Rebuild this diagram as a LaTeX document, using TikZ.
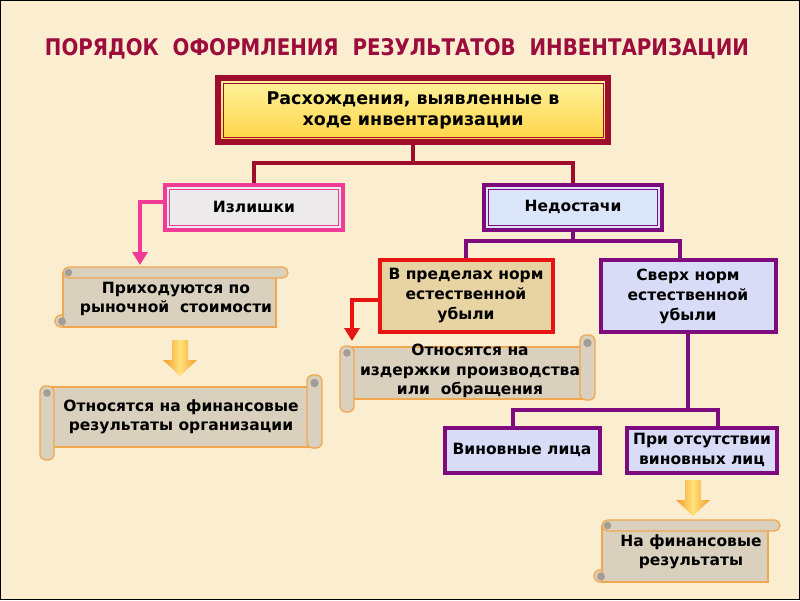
\documentclass[tikz,border=0pt]{standalone}
\usepackage{graphicx}
\usepackage{fontspec}
\setmainfont{DejaVu Sans}
\usetikzlibrary{arrows.meta,calc}
\definecolor{bgc}{HTML}{FBEED0}
\definecolor{titlec}{HTML}{9C0C3C}
\definecolor{darkred}{HTML}{A00C2C}
\definecolor{pinkc}{HTML}{F03C96}
\definecolor{purplec}{HTML}{7E0A7E}
\definecolor{redc}{HTML}{E81414}
\definecolor{scrollfill}{HTML}{DAD0BE}
\definecolor{scrollline}{HTML}{F0A850}
\definecolor{curlc}{HTML}{A39D95}
\definecolor{orangeA}{HTML}{F59A28}
\definecolor{orangeB}{HTML}{FFE27A}
\definecolor{yelTop}{HTML}{FFF3A0}
\definecolor{yelBot}{HTML}{FFD445}
\definecolor{grayfill}{HTML}{ECEAEA}
\definecolor{bluefill}{HTML}{DCE6FA}
\definecolor{lavfill}{HTML}{D8DCF6}
\definecolor{parch}{HTML}{E8D3A2}
\tikzset{
  boxtxt/.style={align=center, font=\bfseries\fontsize{15.5}{20}\selectfont, text=black, inner sep=0pt},
  framebox/.style={boxtxt, draw=#1, line width=4pt},
  innerfr/.style={draw=#1, line width=0.9pt},
  scrtxt/.style={align=center, font=\bfseries\fontsize{15.5}{19.5}\selectfont, text=black, inner sep=0pt},
  conn/.style={line width=3.2pt},
  elbow/.style={line width=3.4pt, -{Triangle[width=15pt,length=13pt]}},
  scrollbody/.style={fill=scrollfill, draw=scrollline, line width=1.3pt},
}
\newcommand\myhscroll[4]{%
  \draw[scrollbody, rounded corners=6pt] (#1,#4-12) rectangle (#1+22,#4);
  \draw[scrollbody] (#1+8,#2+6) rectangle (#3-12,#4);
  \draw[scrollbody, rounded corners=5.5pt] (#1+8,#2) rectangle (#3,#2+11);
  \fill[curlc] (#1+13.5,#2+5.5) circle (3.8);
  \fill[curlc] (#1+7,#4-5.5) circle (4);
}
\newcommand\myvscroll[4]{%
  \draw[scrollbody] (#1+7,#2+12) rectangle (#3-8,#4-13);
  \draw[scrollbody, rounded corners=6pt] (#1,#2+11) rectangle (#1+14,#4);
  \draw[scrollbody, rounded corners=6pt] (#3-15,#2) rectangle (#3,#4-12);
  \fill[curlc] (#1+7,#2+18) circle (3.8);
  \fill[curlc] (#3-7.5,#2+8) circle (4.2);
}
\newcommand\blockarrow[2]{%
  \path[left color=orangeA, right color=orangeA, middle color=orangeB]
    (#1-8,#2) -- (#1+8,#2) -- (#1+8,#2+20) -- (#1+17,#2+20) -- (#1,#2+36)
    -- (#1-17,#2+20) -- (#1-8,#2+20) -- cycle;
}
\begin{document}
\begin{tikzpicture}[x=1pt,y=-1pt]
\useasboundingbox (0,0) rectangle (800,600);
\fill[bgc] (0,0) rectangle (800,600);
\draw[black, line width=1.2pt] (0.6,0.6) rectangle (799.4,599.4);

% title
\node[text=titlec, inner sep=0pt, anchor=base] (title) at (397,55)
  {\resizebox{704pt}{17pt}{\bfseries ПОРЯДОК\ \ ОФОРМЛЕНИЯ\ \ РЕЗУЛЬТАТОВ\ \ ИНВЕНТАРИЗАЦИИ}};

% top box
\node[boxtxt, font=\bfseries\fontsize{17.5}{21}\selectfont, draw=darkred, line width=6pt,
      top color=yelTop, bottom color=yelBot,
      minimum width=390pt, minimum height=64pt] (top) at (413,110)
  {Расхождения, выявленные в\\ходе инвентаризации};
\draw[innerfr=darkred] ([shift={(8,8)}]top.north west) rectangle ([shift={(-8,-8)}]top.south east);

% level 2
\node[framebox=pinkc, fill=grayfill, minimum width=178pt, minimum height=45pt] (izl) at (254,207) {Излишки};
\node[framebox=purplec, fill=bluefill, minimum width=178pt, minimum height=45pt] (ned) at (573,207) {Недостачи};
\draw[innerfr=pinkc] ([shift={(6.5,6.5)}]izl.north west) rectangle ([shift={(-6.5,-6.5)}]izl.south east);
\draw[innerfr=purplec] ([shift={(6.5,6.5)}]ned.north west) rectangle ([shift={(-6.5,-6.5)}]ned.south east);

\coordinate (j1) at (413,163);
\draw[conn, darkred] (top.south) -- (j1);
\draw[conn, darkred] (j1) -| (izl.north);
\draw[conn, darkred] (j1) -| (ned.north);

% level 3
\node[framebox=redc, fill=parch, minimum width=173pt, minimum height=72pt] (vp) at (466,296)
  {В пределах норм\\естественной\\убыли};
\node[framebox=purplec, fill=lavfill, minimum width=175pt, minimum height=72pt] (sv) at (688,296)
  {Сверх норм\\естественной\\убыли};
\coordinate (j2) at (573,241);
\draw[conn, purplec] (ned.south) -- (j2);
\draw[conn, purplec] (j2) -| (vp.north);
\draw[conn, purplec] (j2) -| ([xshift=-8pt]sv.north);

% level 4
\node[framebox=purplec, fill=lavfill, minimum width=155pt, minimum height=45pt] (vin) at (522,450)
  {Виновные лица};
\node[framebox=purplec, fill=lavfill, minimum width=150pt, minimum height=45pt] (pri) at (702,450)
  {При отсутствии\\виновных лиц};
\coordinate (j3) at (688,410);
\draw[conn, purplec] (sv.south) -- (j3);
\draw[conn, purplec] (j3) -| ([xshift=-9pt]vin.north);
\draw[conn, purplec] (j3) -| ([xshift=16pt]pri.north);

% scrolls
\myhscroll{55}{267}{288}{327}
\node[scrtxt] (s1) at (176,299) {Приходуются по\\рыночной\ \ стоимости};
\myvscroll{40}{375}{322}{460}
\node[scrtxt] (s2) at (181,417) {Относятся на финансовые\\результаты организации};
\myvscroll{340}{335}{595}{412}
\node[scrtxt] (s3) at (470,371) {Относятся на\\издержки производства\\или\ \ обращения};
\myhscroll{594}{520}{780}{582}
\node[scrtxt] (s4) at (691,552) {На финансовые\\результаты};

% elbow arrows
\coordinate (a1) at (140,265);
\draw[elbow, pinkc] ([yshift=5pt]izl.west) -| (a1);
\coordinate (a2) at (352,341);
\draw[elbow, redc] ([yshift=-4pt]vp.west) -| (a2);

% block arrows
\blockarrow{180}{340}
\blockarrow{693}{480}
\end{tikzpicture}
\end{document}
